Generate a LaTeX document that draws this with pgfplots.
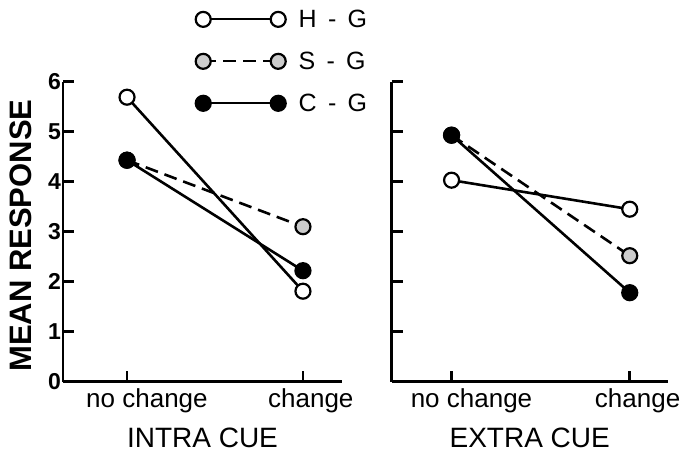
\documentclass[border=0pt]{standalone}
\usepackage{pgfplots}
\pgfplotsset{compat=1.18}
\usepackage{fontspec}
\setmainfont{Liberation Sans}

% values
\pgfplotstableread{
x y
0 5.69
1 1.81
}\intrahg
\pgfplotstableread{
x y
0 4.43
1 3.10
}\intrasg
\pgfplotstableread{
x y
0 4.43
1 2.22
}\intracg
\pgfplotstableread{
x y
0 4.03
1 3.45
}\extrahg
\pgfplotstableread{
x y
0 4.93
1 2.52
}\extrasg
\pgfplotstableread{
x y
0 4.93
1 1.78
}\extracg

\pgfplotsset{
  panel/.style={
    scale only axis,
    height=300pt,
    anchor=south west,
    ymin=0, ymax=6,
    axis x line*=bottom, axis y line*=left,
    axis line style={-, line width=2.6pt},
    tick align=inside,
    major tick length=11pt,
    tick style={line width=2.6pt, black},
    xtick={0,1},
    ytick={0,...,6},
    xticklabels={no change,\hspace*{6pt}change},
    xticklabel style={anchor=north west, xshift=-41pt, yshift=-7pt, inner sep=0pt,
      font=\fontsize{26}{28}\selectfont},
    xlabel style={at={(axis description cs:0.5,0)}, anchor=center, yshift=-56pt,
      font=\fontsize{28}{30}\selectfont},
    every axis plot/.append style={line width=2.6pt, black, mark=*, mark size=7.5pt},
  },
  hg/.style={solid, mark options={solid, line width=2.2pt, draw=black, fill=white}},
  sg/.style={dash pattern=on 13pt off 7pt, mark options={solid, line width=2.2pt, draw=black, fill=gray!40}},
  cg/.style={solid, mark options={solid, line width=2.2pt, draw=black, fill=black}},
}

\begin{document}
\begin{tikzpicture}
\useasboundingbox (0,0) rectangle (693pt,452pt);

% INTRA CUE
\begin{axis}[panel,
  at={(63pt,70.3pt)}, width=279pt,
  xmin=-0.364, xmax=1.222,
  yticklabels={0,1,2,3,4,5,6},
  yticklabel style={font=\fontsize{23}{24}\selectfont\bfseries, inner sep=2pt},
  ylabel={MEAN RESPONSE},
  ylabel style={at={(axis description cs:-0.151,0.487)}, anchor=center,
    font=\fontsize{31}{32}\selectfont\bfseries},
  xlabel={INTRA CUE},
  legend image code/.code={\draw[#1, line width=2pt] plot coordinates {(0pt,0pt) (75pt,0pt)};},
  legend style={draw=none, fill=none, inner sep=0pt,
    at={(axis description cs:0.475,1.24)}, anchor=north west,
    font=\fontsize{25}{26}\selectfont, row sep=23pt,
    nodes={inner sep=0pt},
    /tikz/every odd column/.append style={column sep=13pt}},
  legend cell align=left,
]
\addplot[hg] table {\intrahg};
\addplot[sg] table {\intrasg};
\addplot[cg] table {\intracg};
\legend{H\hspace{0.45em}-\hspace{0.45em}G, S\hspace{0.45em}-\hspace{0.45em}G, C\hspace{0.45em}-\hspace{0.45em}G}
\end{axis}

% EXTRA CUE
\begin{axis}[panel,
  at={(391.7pt,70.3pt)}, width=276pt,
  xmin=-0.336, xmax=1.213,
  yticklabels={},
  xlabel={EXTRA CUE},
]
\addplot[hg] table {\extrahg};
\addplot[sg] table {\extrasg};
\addplot[cg] table {\extracg};
\end{axis}
\end{tikzpicture}
\end{document}
